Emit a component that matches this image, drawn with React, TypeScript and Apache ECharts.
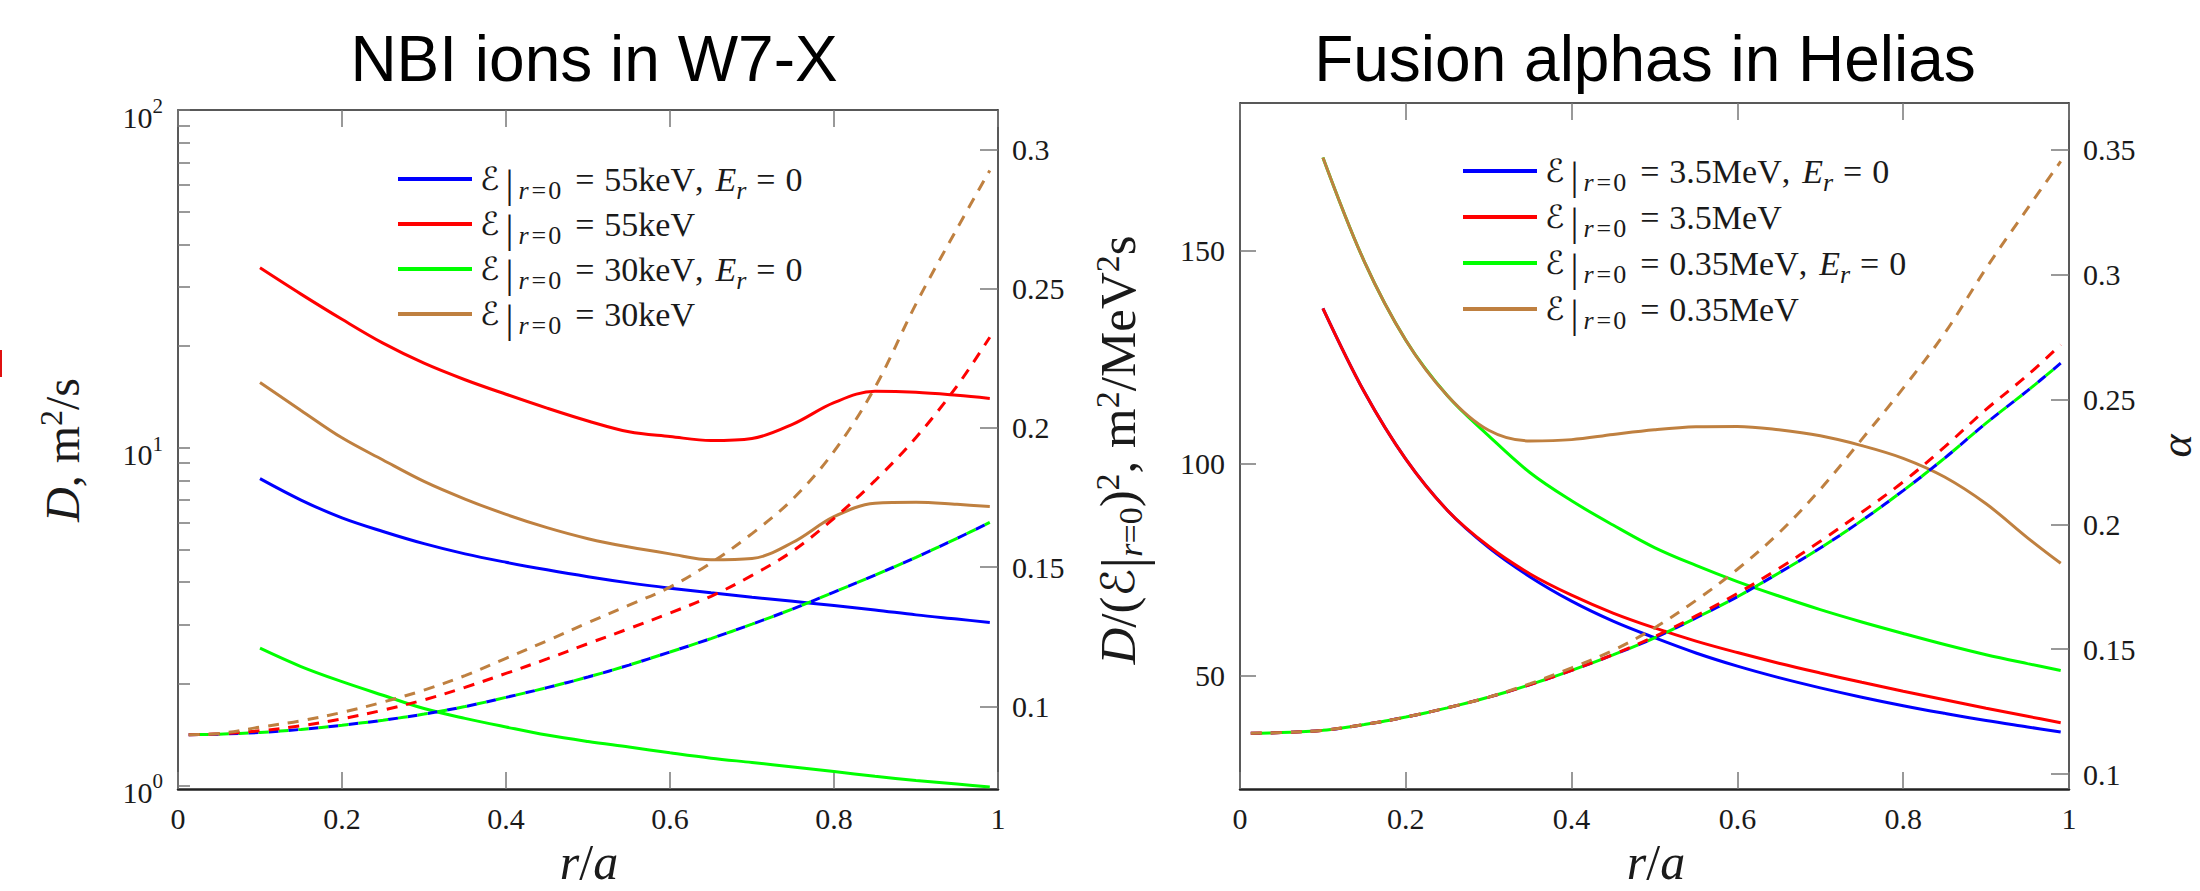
import React, { useEffect, useRef } from "react";
import * as echarts from "echarts";

// ---------- data ----------
const R_SOLID = [0.1, 0.15, 0.2, 0.25, 0.3, 0.35, 0.4, 0.45, 0.5, 0.55, 0.6, 0.65, 0.7, 0.75, 0.8, 0.85, 0.9, 0.95, 0.99];
const R_DASH = [0.013, 0.05, 0.1, 0.15, 0.2, 0.25, 0.3, 0.35, 0.4, 0.45, 0.5, 0.55, 0.6, 0.65, 0.7, 0.75, 0.8, 0.85, 0.9, 0.95, 0.99];

// NBI ions in W7-X : D (m^2/s), log axis
const W7X_D_55_ER0 = [8.1, 7.0, 6.2, 5.65, 5.2, 4.85, 4.58, 4.35, 4.15, 3.98, 3.84, 3.72, 3.61, 3.51, 3.41, 3.31, 3.2, 3.11, 3.04];
const W7X_D_55 = [34.1, 28.5, 24.0, 20.4, 17.8, 15.9, 14.4, 13.1, 12.0, 11.15, 10.8, 10.5, 10.65, 11.75, 13.6, 14.7, 14.6, 14.3, 14.0];
const W7X_D_30_ER0 = [2.55, 2.25, 2.03, 1.85, 1.69, 1.58, 1.49, 1.41, 1.35, 1.3, 1.25, 1.205, 1.17, 1.135, 1.1, 1.065, 1.035, 1.01, 0.99];
const W7X_D_30 = [15.6, 12.9, 10.7, 9.2, 7.95, 7.05, 6.35, 5.8, 5.38, 5.08, 4.85, 4.66, 4.7, 5.25, 6.25, 6.85, 6.9, 6.8, 6.7];
// NBI ions in W7-X : alpha (right axis, dashed)
const W7X_ALPHA_ER0 = [0.0898, 0.09, 0.0906, 0.0917, 0.0932, 0.095, 0.0972, 0.0999, 0.1032, 0.1067, 0.1105, 0.1148, 0.1195, 0.1243, 0.1295, 0.135, 0.141, 0.1471, 0.1535, 0.1603, 0.166];
const W7X_ALPHA_55 = [0.0898, 0.0901, 0.0912, 0.093, 0.0955, 0.0986, 0.1023, 0.1068, 0.1118, 0.117, 0.1225, 0.1279, 0.1335, 0.1395, 0.147, 0.1558, 0.1675, 0.181, 0.1965, 0.215, 0.2325];
const W7X_ALPHA_30 = [0.0898, 0.0902, 0.0925, 0.0948, 0.0978, 0.1015, 0.1058, 0.111, 0.1172, 0.1235, 0.13, 0.1363, 0.1428, 0.1515, 0.162, 0.1745, 0.1915, 0.2145, 0.2445, 0.2715, 0.2924];

// Fusion alphas in Helias : D/(E)^2
const HEL_D_35_ER0 = [136.5, 116.8, 101, 89, 80.2, 73.3, 67.6, 62.9, 59.0, 55.4, 52.3, 49.6, 47.2, 45.0, 43.0, 41.2, 39.5, 38.0, 36.8];
const HEL_D_35 = [136.5, 116.8, 101, 89, 80.5, 74, 69, 64.8, 61.3, 58.2, 55.5, 53.0, 50.7, 48.5, 46.4, 44.4, 42.4, 40.5, 39.0];
const HEL_D_035_ER0 = [172, 147.5, 129, 116, 106.5, 97.8, 91.2, 85.5, 80.2, 76.0, 72.2, 68.8, 65.6, 62.7, 60.0, 57.4, 55.0, 52.9, 51.3];
const HEL_D_035 = [172, 147.5, 129, 116, 107.8, 105.3, 105.6, 106.8, 107.9, 108.6, 108.7, 107.9, 106.5, 104.2, 101.2, 96.8, 90.5, 82.5, 76.5];
// Fusion alphas in Helias : alpha (right axis, dashed)
const HEL_ALPHA_ER0 = [0.1163, 0.1166, 0.1175, 0.1198, 0.1228, 0.1265, 0.1308, 0.1358, 0.1415, 0.1477, 0.1545, 0.1625, 0.171, 0.1805, 0.1905, 0.2015, 0.2135, 0.2265, 0.2405, 0.2535, 0.2645];
const HEL_ALPHA_35 = [0.1163, 0.1166, 0.1175, 0.1198, 0.1228, 0.1265, 0.1308, 0.1358, 0.1415, 0.1478, 0.155, 0.1633, 0.1723, 0.1823, 0.1932, 0.2048, 0.217, 0.231, 0.246, 0.2597, 0.2719];
const HEL_ALPHA_035 = [0.1163, 0.1166, 0.1175, 0.1198, 0.1228, 0.1265, 0.1308, 0.1362, 0.1425, 0.1495, 0.1585, 0.1695, 0.182, 0.1965, 0.214, 0.234, 0.2545, 0.2765, 0.3025, 0.3265, 0.3453];

// axes ticks
const X_TICK_INTERVAL = 0.2;
const W7X_D_LABELS = [1, 10, 100];
const W7X_D_TICKS = [1, 2, 3, 4, 5, 6, 7, 8, 9, 10, 20, 30, 40, 50, 60, 70, 80, 90, 100];
const W7X_ALPHA_TICKS = [0.1, 0.15, 0.2, 0.25, 0.3];
const HEL_D_TICKS = [50, 100, 150];
const HEL_ALPHA_TICKS = [0.1, 0.15, 0.2, 0.25, 0.3, 0.35];

const W7X_NAMES = ["55keV, Er=0", "55keV", "30keV, Er=0", "30keV"];
const HEL_NAMES = ["3.5MeV, Er=0", "3.5MeV", "0.35MeV, Er=0", "0.35MeV"];

// ---------- styling ----------
const BLUE = "#0000ff";
const RED = "#ff0000";
const GREEN = "#00ff00";
const BROWN = "#bf8040";
const LEGEND_COLORS = [BLUE, RED, GREEN, BROWN];
const TXT = "#1a1a1a";
const SERIF = "'Liberation Serif', 'DejaVu Serif', serif";
const CALF = "'DejaVu Serif', 'DejaVu Sans', serif";
const SANS = "'Liberation Sans', Arial, sans-serif";

const zip = (xs: number[], ys: number[]) => xs.map((x, i) => [x, ys[i]]);

function solid(name: string, xs: number[], ys: number[], color: string, xi: number, yi: number) {
  return {
    type: "line",
    name,
    data: zip(xs, ys),
    xAxisIndex: xi,
    yAxisIndex: yi,
    symbol: "none",
    showSymbol: false,
    smooth: 0.35,
    silent: true,
    itemStyle: { color },
    lineStyle: { color, width: 3 },
    z: 3,
  };
}

function dashed(name: string, xs: number[], ys: number[], color: string, xi: number, yi: number, offset: number, pattern: number[]) {
  return {
    type: "line",
    name,
    data: zip(xs, ys),
    xAxisIndex: xi,
    yAxisIndex: yi,
    symbol: "none",
    showSymbol: false,
    smooth: 0.35,
    silent: true,
    itemStyle: { color },
    lineStyle: { color, width: 3, type: pattern, dashOffset: offset },
    z: 4,
  };
}

// rich styles for the legend texts (zrender style keys)
const legendRich = {
  rm: { fontFamily: SERIF, fontSize: 34, fill: TXT },
  cm: { fontFamily: SERIF, fontSize: 34, fill: TXT, padding: [0, 12, 0, 0] },
  it: { fontFamily: SERIF, fontSize: 34, fontStyle: "italic", fill: TXT },
  eq: { fontFamily: SERIF, fontSize: 34, fill: TXT, padding: [0, 10, 0, 14] },
  eq2: { fontFamily: SERIF, fontSize: 34, fill: TXT, padding: [0, 10, 0, 9] },
  cal: { fontFamily: CALF, fontSize: 32, fill: TXT, padding: [0, 2, 0, 0] },
  bar: { fontFamily: SERIF, fontSize: 40, fill: TXT, padding: [8, 5, 0, 4] },
  subi: { fontFamily: SERIF, fontSize: 26, fontStyle: "italic", fill: TXT, padding: [22, 1, 0, 0] },
  subeq: { fontFamily: SERIF, fontSize: 26, fill: TXT, padding: [22, 2, 0, 2] },
  sub: { fontFamily: SERIF, fontSize: 26, fill: TXT, padding: [22, 0, 0, 0] },
};

function legendText(name: string) {
  const er0 = name.indexOf("Er=0") >= 0;
  const energy = name.split(",")[0];
  let s = `{cal|ℰ}{bar||}{subi|r}{subeq|=}{sub|0}{eq|=}{rm|${energy}}`;
  if (er0) s += `{cm|,}{it|E}{subi|r}{eq2|=}{rm|0}`;
  return s;
}

function legendGraphics(names: string[], x0: number, y0: number, dy: number) {
  const out: any[] = [];
  names.forEach((name, i) => {
    const y = y0 + dy * i;
    out.push({
      type: "line",
      shape: { x1: x0, y1: y, x2: x0 + 74, y2: y },
      style: { stroke: LEGEND_COLORS[i], lineWidth: 4 },
      silent: true,
    });
    out.push({
      type: "text",
      x: x0 + 82,
      y,
      silent: true,
      style: { text: legendText(name), rich: legendRich, align: "left", verticalAlign: "middle" },
    });
  });
  return out;
}

const tickStyle = { color: "#777", width: 1.5 };
const frame = (w: number) => ({ show: true, onZero: false, lineStyle: { color: "#222", width: w } });
const labelBase = { fontFamily: SERIF, fontSize: 30, color: TXT };
const fmtNum = (v: number) => String(+(+v).toFixed(3));

function xAxes(grid: number) {
  return [
    {
      gridIndex: grid, type: "value", min: 0, max: 1, interval: X_TICK_INTERVAL, position: "bottom",
      axisLine: frame(2.5),
      axisTick: { inside: true, length: 17, lineStyle: tickStyle },
      axisLabel: { ...labelBase, margin: 14 },
      splitLine: { show: false },
    },
    {
      gridIndex: grid, type: "value", min: 0, max: 1, interval: X_TICK_INTERVAL, position: "top",
      axisLine: frame(1.5),
      axisTick: { inside: true, length: 17, lineStyle: tickStyle },
      axisLabel: { show: false },
      splitLine: { show: false },
    },
  ];
}

const axisNameRich = {
  i: { fontFamily: SERIF, fontSize: 50, fontStyle: "italic", fill: TXT },
  rm: { fontFamily: SERIF, fontSize: 50, fill: TXT },
};

const option: any = {
  animation: false,
  backgroundColor: "#ffffff",
  textStyle: { fontFamily: SERIF },
  grid: [
    { left: 178, top: 110, width: 820, height: 679, containLabel: false },
    { left: 1240, top: 103, width: 829, height: 686, containLabel: false },
  ],
  xAxis: [...xAxes(0), ...xAxes(1)],
  yAxis: [
    {
      gridIndex: 0, type: "log", logBase: 10, min: 0.9764, max: 100, position: "left",
      axisLine: frame(1.5),
      axisTick: { inside: true, length: 12, lineStyle: tickStyle, customValues: W7X_D_TICKS },
      axisLabel: {
        customValues: W7X_D_LABELS,
        margin: 15,
        formatter: (v: number) => `{b|10}{s|${Math.round(Math.log10(v))}}`,
        rich: {
          b: { ...labelBase, padding: [14, 0, 0, 0] },
          s: { fontFamily: SERIF, fontSize: 21, color: TXT, padding: [0, 0, 8, 0] },
        },
      },
      splitLine: { show: false },
      minorTick: { show: false },
    },
    {
      gridIndex: 0, type: "value", min: 0.0703, max: 0.3141, position: "right",
      axisLine: frame(1.5),
      axisTick: { inside: true, length: 18, lineStyle: tickStyle, customValues: W7X_ALPHA_TICKS },
      axisLabel: { ...labelBase, margin: 14, customValues: W7X_ALPHA_TICKS, formatter: fmtNum },
      splitLine: { show: false },
    },
    {
      gridIndex: 1, type: "value", min: 23.4, max: 184.8, position: "left",
      axisLine: frame(1.5),
      axisTick: { inside: true, length: 16, lineStyle: tickStyle, customValues: HEL_D_TICKS },
      axisLabel: { ...labelBase, margin: 15, customValues: HEL_D_TICKS, formatter: fmtNum },
      splitLine: { show: false },
    },
    {
      gridIndex: 1, type: "value", min: 0.094, max: 0.3687, position: "right",
      axisLine: frame(1.5),
      axisTick: { inside: true, length: 18, lineStyle: tickStyle, customValues: HEL_ALPHA_TICKS },
      axisLabel: { ...labelBase, margin: 14, customValues: HEL_ALPHA_TICKS, formatter: fmtNum },
      splitLine: { show: false },
    },
  ],
  series: [
    // W7-X solid D curves
    solid(W7X_NAMES[0], R_SOLID, W7X_D_55_ER0, BLUE, 0, 0),
    solid(W7X_NAMES[1], R_SOLID, W7X_D_55, RED, 0, 0),
    solid(W7X_NAMES[2], R_SOLID, W7X_D_30_ER0, GREEN, 0, 0),
    solid(W7X_NAMES[3], R_SOLID, W7X_D_30, BROWN, 0, 0),
    // W7-X dashed alpha curves
    dashed("α " + W7X_NAMES[0], R_DASH, W7X_ALPHA_ER0, BLUE, 0, 1, 0, [10, 10]),
    dashed("α " + W7X_NAMES[2], R_DASH, W7X_ALPHA_ER0, GREEN, 0, 1, 10, [10, 10]),
    dashed("α " + W7X_NAMES[1], R_DASH, W7X_ALPHA_55, RED, 0, 1, 0, [11, 9]),
    dashed("α " + W7X_NAMES[3], R_DASH, W7X_ALPHA_30, BROWN, 0, 1, 0, [11, 9]),
    // Helias solid curves
    solid(HEL_NAMES[0], R_SOLID, HEL_D_35_ER0, BLUE, 2, 2),
    solid(HEL_NAMES[1], R_SOLID, HEL_D_35, RED, 2, 2),
    solid(HEL_NAMES[2], R_SOLID, HEL_D_035_ER0, GREEN, 2, 2),
    solid(HEL_NAMES[3], R_SOLID, HEL_D_035, BROWN, 2, 2),
    // Helias dashed alpha curves
    dashed("α " + HEL_NAMES[0], R_DASH, HEL_ALPHA_ER0, BLUE, 2, 3, 0, [10, 10]),
    dashed("α " + HEL_NAMES[2], R_DASH, HEL_ALPHA_ER0, GREEN, 2, 3, 10, [10, 10]),
    dashed("α " + HEL_NAMES[1], R_DASH, HEL_ALPHA_35, RED, 2, 3, 0, [11, 9]),
    dashed("α " + HEL_NAMES[3], R_DASH, HEL_ALPHA_035, BROWN, 2, 3, 0, [11, 9]),
  ],
  graphic: [
    ...legendGraphics(W7X_NAMES, 398, 179, 45),
    ...legendGraphics(HEL_NAMES, 1463, 171, 46),
    {
      type: "text", x: 594, y: 59,
      style: { text: "NBI ions in W7-X", font: `64px ${SANS}`, fill: "#000", align: "center", verticalAlign: "middle" },
    },
    {
      type: "text", x: 1645, y: 59,
      style: { text: "Fusion alphas in Helias", font: `64px ${SANS}`, fill: "#000", align: "center", verticalAlign: "middle" },
    },
    {
      type: "text", x: 589, y: 862,
      style: { text: "{i|r}{rm|/}{i|a}", align: "center", verticalAlign: "middle", rich: axisNameRich },
    },
    {
      type: "text", x: 1656, y: 862,
      style: { text: "{i|r}{rm|/}{i|a}", align: "center", verticalAlign: "middle", rich: axisNameRich },
    },
    {
      type: "text", x: 62, y: 450, rotation: Math.PI / 2,
      style: {
        text: "{i|D}{rm|, m}{sup|2}{rm|/s}", align: "center", verticalAlign: "middle",
        rich: {
          i: { fontFamily: SERIF, fontSize: 48, fontStyle: "italic", fill: TXT },
          rm: { fontFamily: SERIF, fontSize: 48, fill: TXT },
          sup: { fontFamily: SERIF, fontSize: 32, fill: TXT, padding: [0, 0, 22, 0] },
        },
      },
    },
    {
      type: "text", x: 1118, y: 450, rotation: Math.PI / 2,
      style: {
        text: "{i|D}{rm|/(}{cal|ℰ}{bar||}{subi|r}{sub|=0}{rm|)}{sup|2}{rm|, m}{sup|2}{rm|/MeV}{sup|2}{rm|s}",
        align: "center", verticalAlign: "middle",
        rich: {
          i: { fontFamily: SERIF, fontSize: 51, fontStyle: "italic", fill: TXT },
          rm: { fontFamily: SERIF, fontSize: 51, fill: TXT },
          cal: { fontFamily: CALF, fontSize: 46, fill: TXT },
          bar: { fontFamily: SERIF, fontSize: 60, fill: TXT, padding: [8, 0, 0, 0] },
          subi: { fontFamily: SERIF, fontSize: 34, fontStyle: "italic", fill: TXT, padding: [24, 0, 0, 0] },
          sub: { fontFamily: SERIF, fontSize: 34, fill: TXT, padding: [24, 0, 0, 0] },
          sup: { fontFamily: SERIF, fontSize: 34, fill: TXT, padding: [0, 0, 22, 0] },
        },
      },
    },
    {
      type: "text", x: 2176, y: 446, rotation: Math.PI / 2,
      style: { text: "α", font: `italic 44px ${SERIF}`, fill: TXT, align: "center", verticalAlign: "middle" },
    },
    {
      type: "rect", shape: { x: 0, y: 350, width: 2, height: 27 }, style: { fill: "#e01010" },
    },
  ],
};

export default function App() {
  const ref = useRef<HTMLDivElement>(null);
  useEffect(() => {
    const chart = echarts.init(ref.current as HTMLDivElement, null, { renderer: "svg" });
    chart.setOption(option);
    return () => chart.dispose();
  }, []);
  return (
    <div
      ref={ref}
      style={{ position: "absolute", left: 0, top: 0, width: 2200, height: 891, background: "#fff" }}
    />
  );
}
